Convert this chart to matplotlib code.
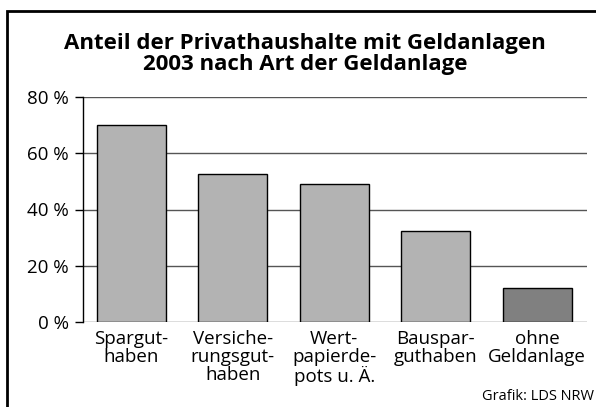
import numpy as np
import matplotlib.pyplot as plt
from matplotlib.patches import Rectangle

plt.rcParams['font.family'] = ['Open Sans', 'DejaVu Sans']

categories = ['Spargut-\nhaben', 'Versiche-\nrungsgut-\nhaben', 'Wert-\npapierde-\npots u. Ä.',
              'Bauspar-\nguthaben', 'ohne\nGeldanlage']
values = [70, 52.5, 49, 32.5, 12]
colors = ['#b3b3b3', '#b3b3b3', '#b3b3b3', '#b3b3b3', '#808080']
yticks = [0, 20, 40, 60, 80]

fig = plt.figure(figsize=(5.96, 4.07), dpi=100)
ax = fig.add_axes([83/596, 1-322/407, (587-83)/596, (322-97)/407])

x = np.arange(len(values))
ax.set_axisbelow(True)
ax.bar(x, values, width=0.68, color=colors, edgecolor='black', linewidth=1, zorder=2)

ax.set_xlim(-0.473, 4.49)
ax.set_ylim(0, 80)
ax.set_yticks(yticks)
ax.set_yticklabels([f'{v} %' for v in yticks], fontsize=13.5)
ax.yaxis.grid(True, color='#555555', linewidth=1)
ax.tick_params(axis='y', length=6, width=1, pad=4)
ax.set_xticks(x)
ax.set_xticklabels(categories, fontsize=13.5, linespacing=1.0)
ax.tick_params(axis='x', length=0, pad=6)
for s in ['top', 'right', 'bottom']:
    ax.spines[s].set_visible(False)
ax.spines['left'].set_linewidth(1)

fig.text(0.512, 1-54/407, 'Anteil der Privathaushalte mit Geldanlagen\n2003 nach Art der Geldanlage',
         ha='center', va='center', fontsize=16, fontweight='bold', linespacing=0.95)
fig.text(594/596, 1-397/407, 'Grafik: LDS NRW', fontsize=10.5, va='center', ha='right')

fig.patches.append(Rectangle((7/596, -0.1), 1.2, 1.1 - 11/407, transform=fig.transFigure,
                             fill=False, edgecolor='black', linewidth=2))

fig.savefig('out.png', dpi=100)
